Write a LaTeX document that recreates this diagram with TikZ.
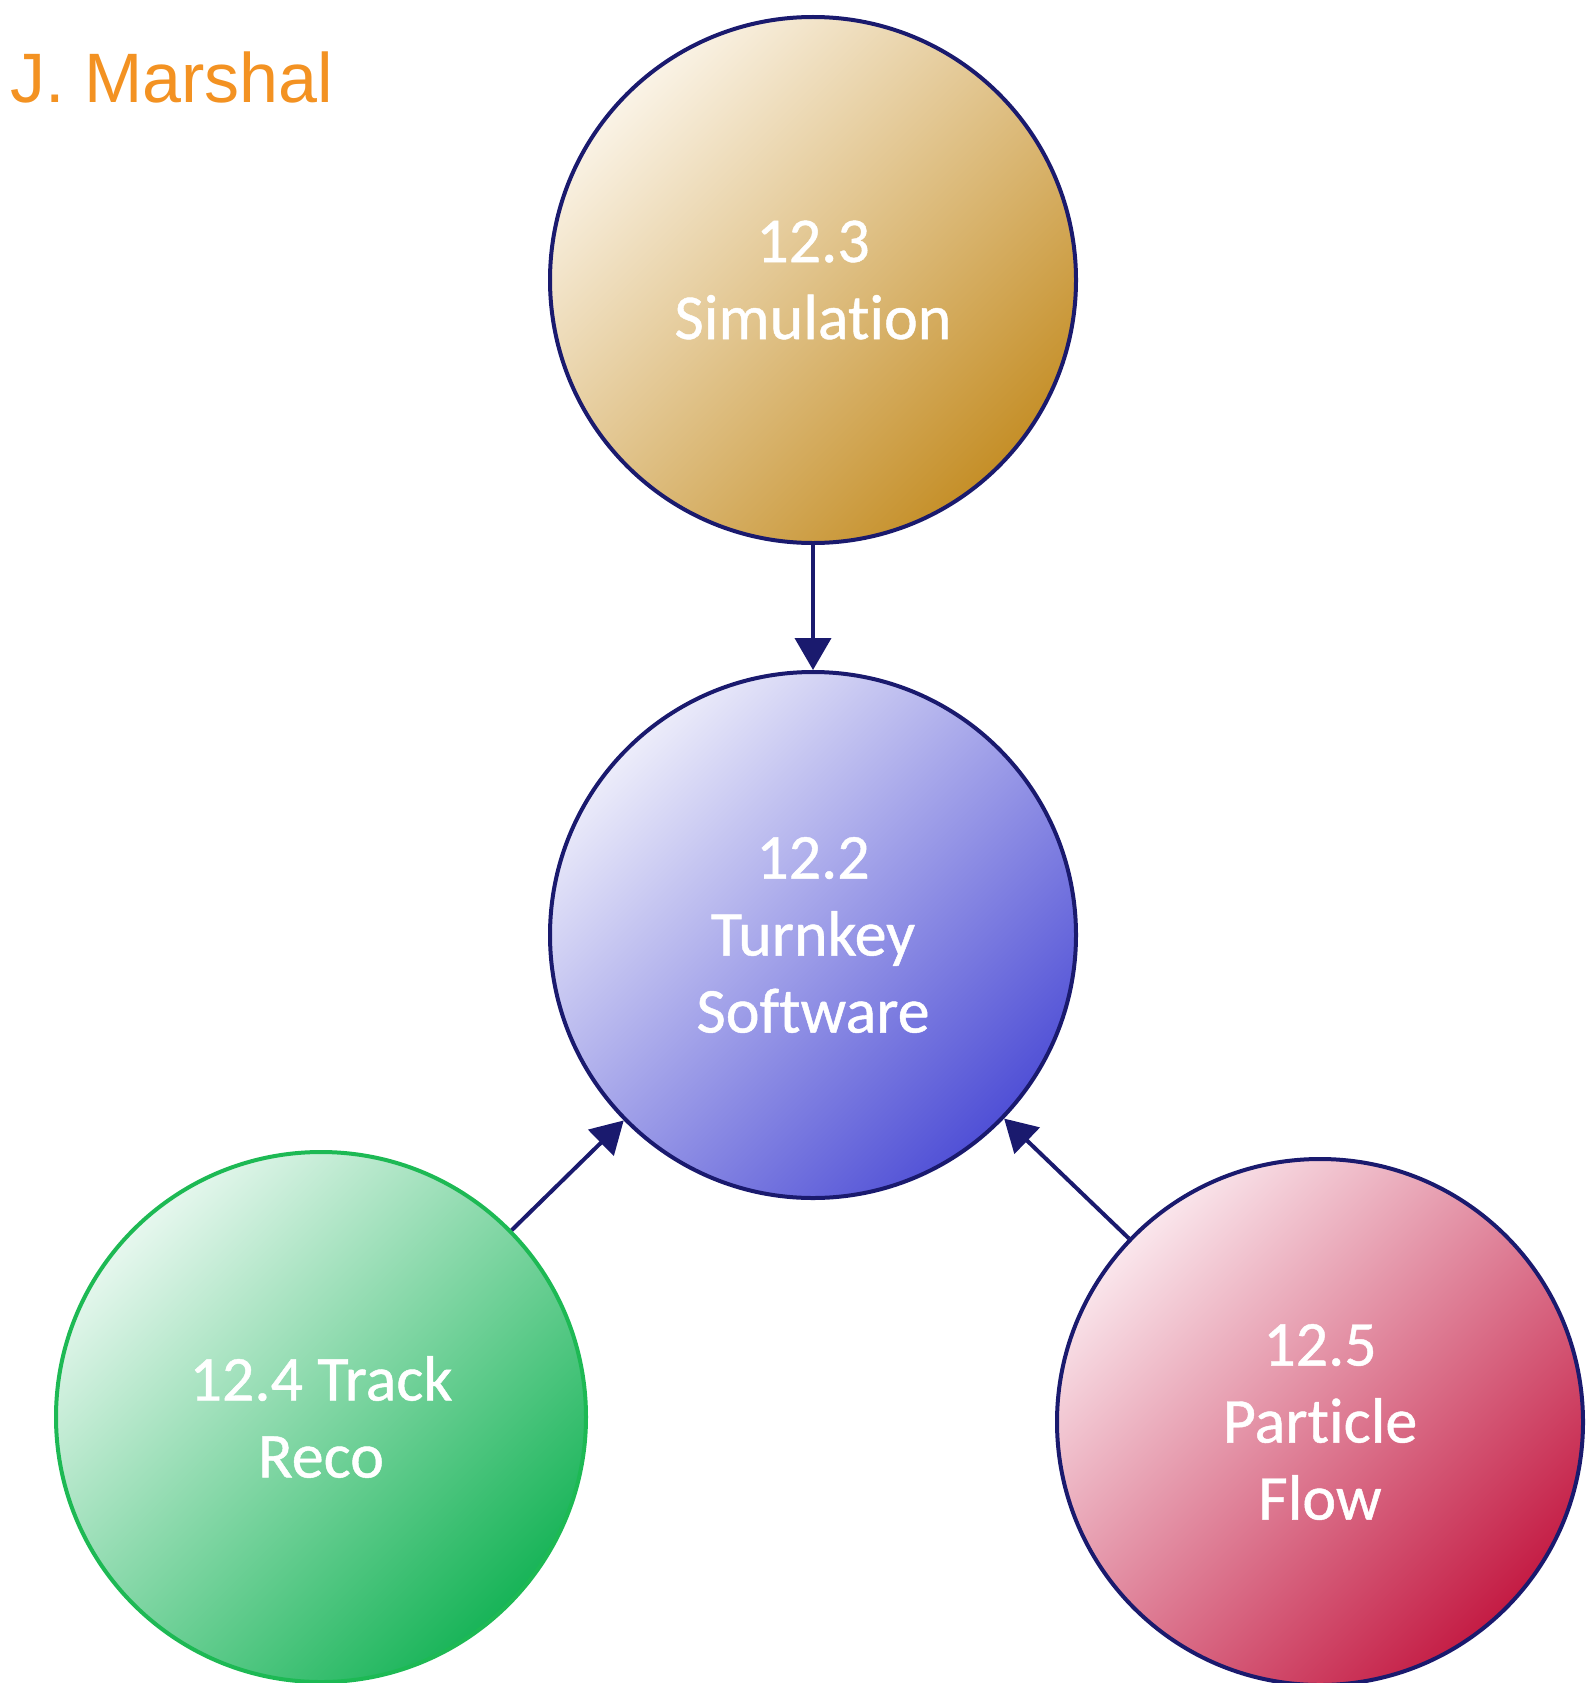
\documentclass[tikz,border=0pt]{standalone}
\usepackage{fontspec}
\setmainfont{Carlito}[Ligatures=NoCommon]
\newfontfamily\bubblefont{Carlito}[Ligatures=NoCommon, FakeBold=0.7]
\newfontfamily\arialfont{Liberation Sans}
\usetikzlibrary{arrows.meta}
\definecolor{navy}{HTML}{1A1A6E}
\definecolor{orangetxt}{HTML}{F39222}
\definecolor{simA}{HTML}{FAF3E6}
\definecolor{simB}{HTML}{C58F28}
\definecolor{turA}{HTML}{ECECFA}
\definecolor{turB}{HTML}{5050D6}
\definecolor{trkA}{HTML}{E6F7EE}
\definecolor{trkB}{HTML}{18B458}
\definecolor{trkL}{HTML}{1DB954}
\definecolor{pfA}{HTML}{FAE6EC}
\definecolor{pfB}{HTML}{C41C44}
\tikzset{
  bubble/.style={circle, minimum size=526pt, inner sep=0pt, line width=4pt, draw=navy,
    text=white, align=center, font=\bubblefont\fontsize{64}{77}\selectfont},
  grad/.style 2 args={top color=#1, bottom color=#2, shading angle=45},
  link/.style={draw=navy, line width=4pt, -{Triangle[length=32pt,width=36pt]}}
}
\begin{document}
\begin{tikzpicture}[x=1pt,y=-1pt]
\useasboundingbox (0,0) rectangle (1593,1683);
\node[anchor=base west, text=orangetxt, font=\arialfont\fontsize{70}{84}\selectfont, inner sep=0pt] (author) at (10,103) {J. Marshal};
\node[bubble, grad={simA}{simB}] (sim) at (813,280) {12.3\\Simulation};
\node[bubble, grad={turA}{turB}] (turn) at (813,935) {12.2\\Turnkey\\Software};
\node[bubble, draw=trkL, minimum size=530pt, grad={trkA}{trkB}] (track) at (321,1417) {12.4 Track\\Reco};
\node[bubble, grad={pfA}{pfB}] (pf) at (1320,1422) {12.5\\Particle\\Flow};
\draw[link] (sim) -- (turn);
\draw[link] (track) -- (turn);
\draw[link] (pf) -- (turn);
\end{tikzpicture}
\end{document}
